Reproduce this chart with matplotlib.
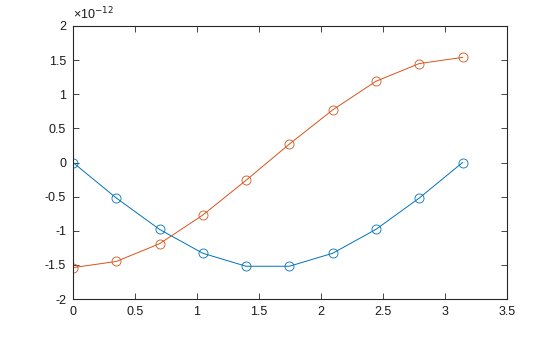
import numpy as np
import matplotlib
matplotlib.use('Agg')
import matplotlib.pyplot as plt
from matplotlib.ticker import FuncFormatter

plt.rcParams['font.family'] = ['Liberation Sans', 'DejaVu Sans']
plt.rcParams['font.size'] = 9

# sample points and series (values in units of 1e-12)
x = [0.0, 0.349, 0.698, 1.047, 1.396, 1.745, 2.094, 2.443, 2.793, 3.142]
blue = [0.0, -0.52, -0.98, -1.33, -1.52, -1.52, -1.33, -0.98, -0.52, 0.0]
orange = [-1.54, -1.45, -1.19, -0.77, -0.26, 0.27, 0.77, 1.19, 1.45, 1.54]
scale = 1e-12

xticks = [0, 0.5, 1, 1.5, 2, 2.5, 3, 3.5]
yticks = [-2, -1.5, -1, -0.5, 0, 0.5, 1, 1.5, 2]

fig = plt.figure(figsize=(5.6, 3.37), dpi=100)
ax = fig.add_axes([73 / 560, 38 / 337, 434 / 560, 273 / 337])

ax.plot(x, np.array(blue) * scale, color='#0072BD', lw=0.7, marker='o',
        mfc='none', ms=6.5, mew=0.6)
ax.plot(x, np.array(orange) * scale, color='#D95319', lw=0.7, marker='o',
        mfc='none', ms=6.5, mew=0.6)

ax.set_xlim(0, 3.5)
ax.set_ylim(-2 * scale, 2 * scale)
ax.set_xticks(xticks)
ax.set_yticks([v * scale for v in yticks])
ax.xaxis.set_major_formatter(FuncFormatter(lambda v, p: '%g' % v))
ax.yaxis.set_major_formatter(FuncFormatter(lambda v, p: '%g' % round(v / scale, 3)))

ax.tick_params(direction='in', top=True, right=True, length=4, width=0.6,
               colors='#262626', labelcolor='#1a1a1a', pad=5)
for s in ax.spines.values():
    s.set_linewidth(0.8)
    s.set_color('#262626')

ax.text(0.0, 1.015, '\u00d710$^{-12}$', transform=ax.transAxes, ha='left',
        va='bottom', fontsize=9, color='#1a1a1a')

fig.savefig('out.png', dpi=100)
